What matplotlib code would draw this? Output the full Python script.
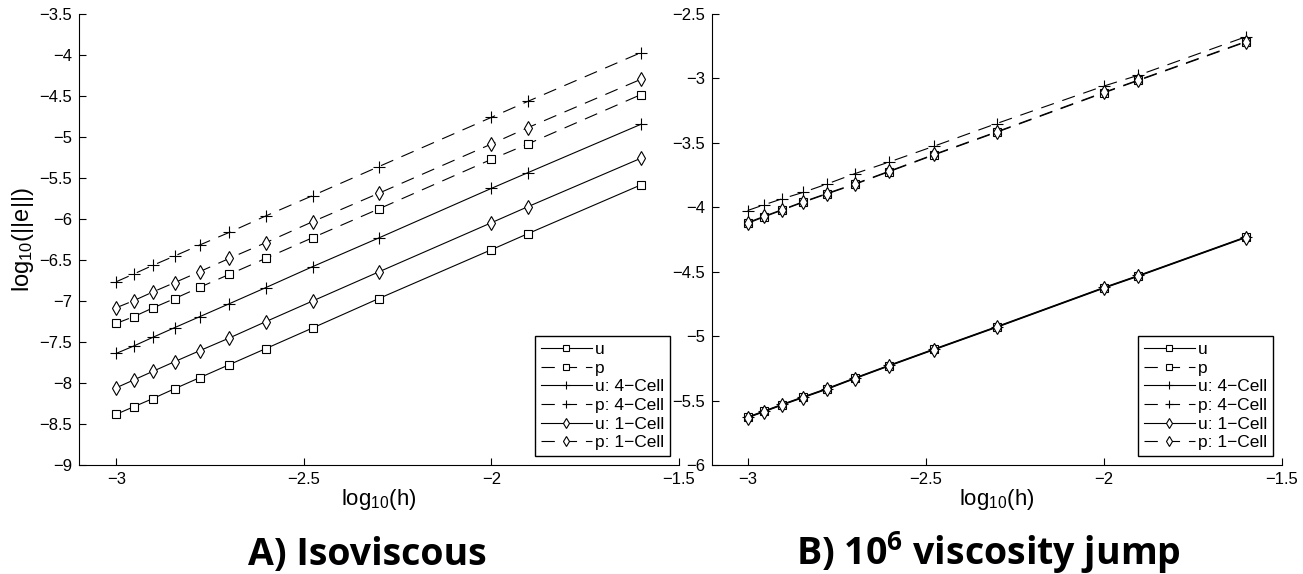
import numpy as np
import matplotlib; matplotlib.use('Agg')
import matplotlib.pyplot as plt

plt.rcParams['font.family'] = ['Liberation Sans', 'DejaVu Sans']
plt.rcParams['mathtext.default'] = 'regular'

# log10(h)
log_h = [-3.0, -2.954, -2.903, -2.845, -2.778, -2.699, -2.602, -2.477, -2.301, -2.0, -1.903, -1.602]

# A) isoviscous
iso_u = [-8.38, -8.29, -8.19, -8.07, -7.935, -7.776, -7.581, -7.329, -6.971, -6.374, -6.179, -5.585]
iso_p = [-7.272, -7.191, -7.085, -6.971, -6.833, -6.675, -6.48, -6.228, -5.878, -5.272, -5.085, -4.484]
iso_u4 = [-7.638, -7.549, -7.443, -7.325, -7.191, -7.033, -6.837, -6.581, -6.232, -5.626, -5.435, -4.846]
iso_p4 = [-6.764, -6.671, -6.565, -6.451, -6.317, -6.163, -5.963, -5.715, -5.362, -4.760, -4.565, -3.972]
iso_u1 = [-8.057, -7.963, -7.858, -7.740, -7.606, -7.451, -7.252, -7.0, -6.646, -6.045, -5.850, -5.260]
iso_p1 = [-7.081, -6.996, -6.890, -6.776, -6.642, -6.480, -6.289, -6.033, -5.687, -5.085, -4.886, -4.297]

# B) 10^6 viscosity jump
jump_u = [-5.631, -5.584, -5.532, -5.475, -5.41, -5.327, -5.228, -5.103, -4.929, -4.625, -4.532, -4.233]
jump_p = [-4.125, -4.075, -4.022, -3.962, -3.897, -3.822, -3.723, -3.594, -3.418, -3.112, -3.016, -2.718]
jump_u4 = [-5.628, -5.581, -5.529, -5.472, -5.407, -5.324, -5.225, -5.100, -4.926, -4.622, -4.529, -4.230]
jump_p4 = [-4.025, -3.981, -3.934, -3.885, -3.82, -3.739, -3.648, -3.526, -3.35, -3.059, -2.975, -2.677]
jump_u1 = [-5.634, -5.587, -5.535, -5.478, -5.413, -5.330, -5.231, -5.106, -4.932, -4.628, -4.535, -4.236]
jump_p1 = [-4.119, -4.070, -4.018, -3.958, -3.893, -3.818, -3.719, -3.590, -3.414, -3.108, -3.012, -2.714]

labels = ['u', 'p', 'u: 4\u2212Cell', 'p: 4\u2212Cell', 'u: 1\u2212Cell', 'p: 1\u2212Cell']
markers = ['s', 's', '+', '+', 'd', 'd']
sizes = [5.5, 5.5, 8, 8, 7, 7]
DASH = (0, (12, 8))
styles = ['-', DASH, '-', DASH, '-', DASH]


def draw_panel(ax, series, ylim, yticks):
    for y, lab, m, ms, ls in zip(series, labels, markers, sizes, styles):
        ax.plot(log_h, y, color='black', lw=0.8, ls=ls, marker=m, ms=ms,
                mfc='white', mec='black', mew=0.8, label=lab)
    ax.set_xlim(-3.1, -1.5)
    ax.set_ylim(*ylim)
    ax.set_xticks([-3, -2.5, -2, -1.5])
    ax.set_xticklabels(['\u22123', '\u22122.5', '\u22122', '\u22121.5'])
    ax.set_yticks(yticks)
    ax.set_yticklabels([('\u2212' + f'{abs(v):g}') for v in yticks])
    for s in ['top', 'right']:
        ax.spines[s].set_visible(False)
    ax.spines['left'].set_linewidth(0.8)
    ax.spines['bottom'].set_linewidth(0.8)
    ax.tick_params(direction='in', length=5, width=0.8, labelsize=12, pad=5)
    ax.set_xlabel('log$_{10}$(h)', fontsize=16, labelpad=0)
    leg = ax.legend(loc='lower right', fontsize=12.5, handlelength=2.9,
                    markerscale=0.7, fancybox=False, framealpha=1,
                    edgecolor='black', borderpad=0.35, labelspacing=0.2,
                    handletextpad=0.2, borderaxespad=0.5)
    leg.get_frame().set_linewidth(1.0)


fig = plt.figure(figsize=(13.03, 5.74), dpi=100)
ax1 = fig.add_axes([0.0606, 0.1899, 0.4605, 0.7857])
ax2 = fig.add_axes([0.5464, 0.1899, 0.4375, 0.7857])

draw_panel(ax1, [iso_u, iso_p, iso_u4, iso_p4, iso_u1, iso_p1],
           (-9, -3.5), [-9, -8.5, -8, -7.5, -7, -6.5, -6, -5.5, -5, -4.5, -4, -3.5])
draw_panel(ax2, [jump_u, jump_p, jump_u4, jump_p4, jump_u1, jump_p1],
           (-6, -2.5), [-6, -5.5, -5, -4.5, -4, -3.5, -3, -2.5])
ax1.set_ylabel('log$_{10}$(||e||)', fontsize=17, labelpad=2)

fig.text(367 / 1303, 1 - 565 / 574, 'A) Isoviscous', ha='center', va='baseline',
         fontsize=27, fontweight='bold', family='Open Sans')
fig.text(988 / 1303, 1 - 565 / 574, 'B) 10$^6$ viscosity jump', ha='center', va='baseline',
         fontsize=27, fontweight='bold', family='Open Sans')

fig.savefig('out.png', dpi=100)
